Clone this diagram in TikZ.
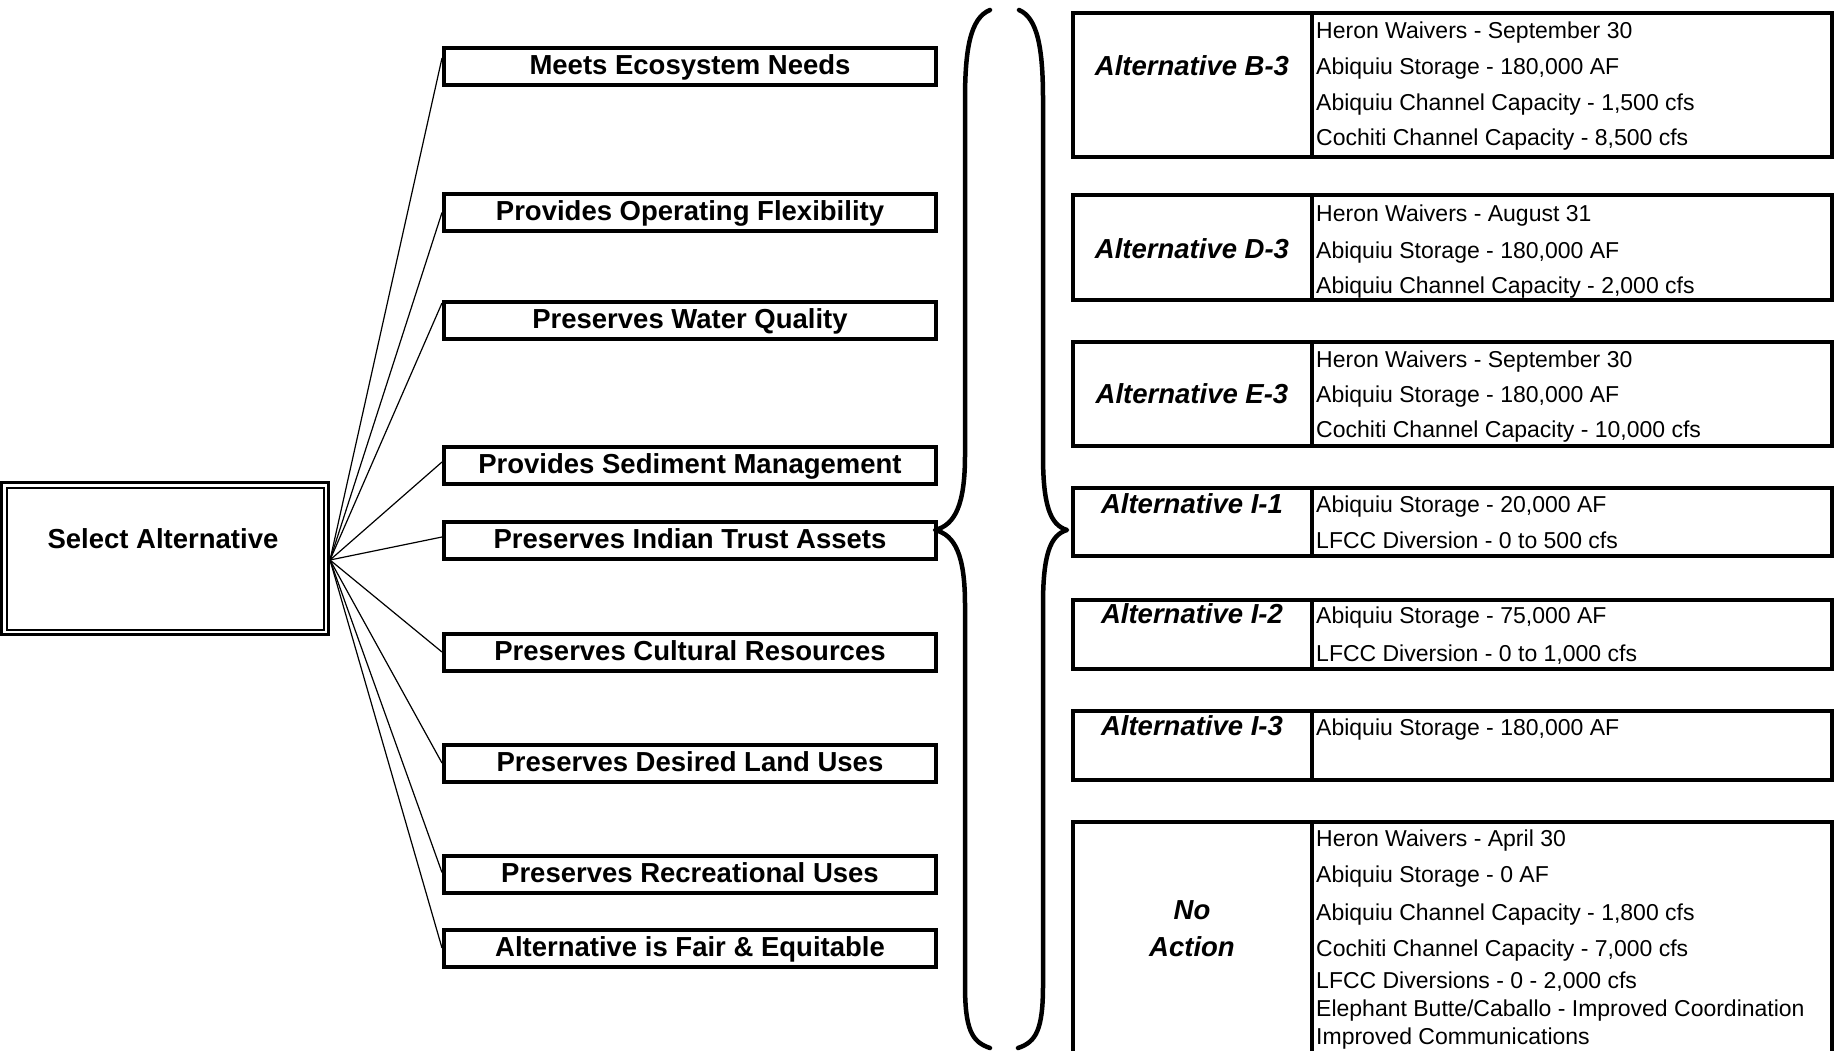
\documentclass[tikz,border=0pt]{standalone}
\usepackage{fontspec}
\setmainfont{Liberation Sans}
\begin{document}
\begin{tikzpicture}[x=1pt,y=-1pt,
  crit/.style={draw, line width=4pt, minimum width=492pt, minimum height=37pt, inner sep=0pt,
    font=\fontsize{27.5}{33}\selectfont\bfseries, text height=19.8pt, text depth=3pt},
  fanline/.style={line width=1.2pt},
  altbox/.style={line width=4pt},
  alttitle/.style={anchor=base, inner sep=0pt, font=\fontsize{27.5}{33}\selectfont\bfseries\itshape},
  altitem/.style={anchor=base west, inner sep=0pt, font=\fontsize{23}{27}\selectfont},
  bracestyle/.style={line width=4.5pt, line cap=round, line join=round}
]
\useasboundingbox (0,0) rectangle (1838,1051);

% Select Alternative (double-framed box)
\node[draw, line width=3.3pt, minimum width=327pt, minimum height=152pt, anchor=north west,
      inner sep=0pt, outer sep=0pt] (sel) at (1.65,482.5) {};
\draw[line width=2pt] ([xshift=5pt,yshift=-5pt]sel.north west) rectangle ([xshift=-5pt,yshift=5pt]sel.south east);
\node[anchor=base, inner sep=0pt, font=\fontsize{27.5}{33}\selectfont\bfseries] (seltext) at (163,548.5) {Select Alternative};
\coordinate (fan) at (330,560);

% Criteria
\node[crit] (c1) at (690,66.5) {Meets Ecosystem Needs};
\node[crit] (c2) at (690,212.5) {Provides Operating Flexibility};
\node[crit] (c3) at (690,320) {Preserves Water Quality};
\node[crit] (c4) at (690,465.5) {Provides Sediment Management};
\node[crit] (c5) at (690,540.5) {Preserves Indian Trust Assets};
\node[crit] (c6) at (690,652) {Preserves Cultural Resources};
\node[crit] (c7) at (690,763) {Preserves Desired Land Uses};
\node[crit] (c8) at (690,874.5) {Preserves Recreational Uses};
\node[crit] (c9) at (690,948) {Alternative is Fair \& Equitable};

% Fan connectors
\draw[fanline] (fan) -- ([yshift=8.5pt]c1.west);
\draw[fanline] (fan) -- (c2.west);
\draw[fanline] (fan) -- ([yshift=17pt]c3.west);
\draw[fanline] (fan) -- ([yshift=3.5pt]c4.west);
\draw[fanline] (fan) -- ([yshift=3.5pt]c5.west);
\draw[fanline] (fan) -- (c6.west);
\draw[fanline] (fan) -- (c7.west);
\draw[fanline] (fan) -- ([yshift=2pt]c8.west);
\draw[fanline] (fan) -- (c9.west);

% Braces
\draw[bracestyle] (990,10) .. controls (970,18) and (965,50) .. (965,100) -- (965,455)
  .. controls (965,505) and (955,525) .. (935,530)
  .. controls (955,535) and (965,555) .. (965,605) -- (965,985)
  .. controls (965,1030) and (972,1042) .. (990,1048);
\draw[bracestyle] (1019,10) .. controls (1038,18) and (1043,50) .. (1043,100) -- (1043,455)
  .. controls (1043,505) and (1050,525) .. (1067,530)
  .. controls (1050,535) and (1043,555) .. (1043,605) -- (1043,985)
  .. controls (1043,1030) and (1036,1042) .. (1018,1048);

% Alternative B-3
\draw[altbox] (1073,13) rectangle (1832,157);
\draw[altbox] (1312,13) -- (1312,157);
\node[alttitle] (tb3) at (1192,75.5) {Alternative B-3};
\node[altitem] (b3a) at (1316,38.5) {Heron Waivers - September 30};
\node[altitem] (b3b) at (1316,75) {Abiquiu Storage - 180,000 AF};
\node[altitem] (b3c) at (1316,111) {Abiquiu Channel Capacity - 1,500 cfs};
\node[altitem] (b3d) at (1316,146) {Cochiti Channel Capacity - 8,500 cfs};

% Alternative D-3
\draw[altbox] (1073,195) rectangle (1832,300);
\draw[altbox] (1312,195) -- (1312,300);
\node[alttitle] (td3) at (1192,258.5) {Alternative D-3};
\node[altitem] (d3a) at (1316,221) {Heron Waivers - August 31};
\node[altitem] (d3b) at (1316,258) {Abiquiu Storage - 180,000 AF};
\node[altitem] (d3c) at (1316,293) {Abiquiu Channel Capacity - 2,000 cfs};

% Alternative E-3
\draw[altbox] (1073,342) rectangle (1832,446);
\draw[altbox] (1312,342) -- (1312,446);
\node[alttitle] (te3) at (1192,403) {Alternative E-3};
\node[altitem] (e3a) at (1316,367) {Heron Waivers - September 30};
\node[altitem] (e3b) at (1316,402) {Abiquiu Storage - 180,000 AF};
\node[altitem] (e3c) at (1316,437) {Cochiti Channel Capacity - 10,000 cfs};

% Alternative I-1
\draw[altbox] (1073,488) rectangle (1832,556);
\draw[altbox] (1312,488) -- (1312,556);
\node[alttitle] (ti1) at (1192,513) {Alternative I-1};
\node[altitem] (i1a) at (1316,512) {Abiquiu Storage - 20,000 AF};
\node[altitem] (i1b) at (1316,548) {LFCC Diversion - 0 to 500 cfs};

% Alternative I-2
\draw[altbox] (1073,600) rectangle (1832,669);
\draw[altbox] (1312,600) -- (1312,669);
\node[alttitle] (ti2) at (1192,623) {Alternative I-2};
\node[altitem] (i2a) at (1316,623) {Abiquiu Storage - 75,000 AF};
\node[altitem] (i2b) at (1316,661) {LFCC Diversion - 0 to 1,000 cfs};

% Alternative I-3
\draw[altbox] (1073,711) rectangle (1832,780);
\draw[altbox] (1312,711) -- (1312,780);
\node[alttitle] (ti3) at (1192,735) {Alternative I-3};
\node[altitem] (i3a) at (1316,735) {Abiquiu Storage - 180,000 AF};

% No Action
\draw[altbox] (1073,1065) -- (1073,822) -- (1832,822) -- (1832,1065);
\draw[altbox] (1312,822) -- (1312,1065);
\node[alttitle] (tna1) at (1192,919) {No};
\node[alttitle] (tna2) at (1192,956) {Action};
\node[altitem] (na1) at (1316,846) {Heron Waivers - April 30};
\node[altitem] (na2) at (1316,882.5) {Abiquiu Storage - 0 AF};
\node[altitem] (na3) at (1316,920) {Abiquiu Channel Capacity - 1,800 cfs};
\node[altitem] (na4) at (1316,956) {Cochiti Channel Capacity - 7,000 cfs};
\node[altitem] (na5) at (1316,988.5) {LFCC Diversions - 0 - 2,000 cfs};
\node[altitem] (na6) at (1316,1016.5) {Elephant Butte/Caballo - Improved Coordination};
\node[altitem] (na7) at (1316,1044.5) {Improved Communications};
\end{tikzpicture}
\end{document}
